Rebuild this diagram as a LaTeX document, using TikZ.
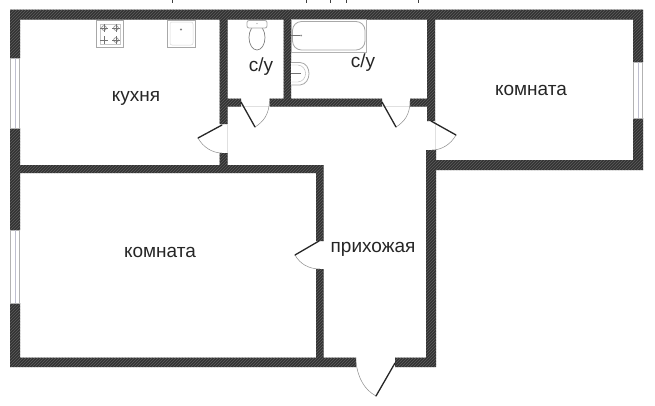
\documentclass[tikz,border=0pt]{standalone}
\usepackage{fontspec}
\setmainfont{Liberation Sans}
\usetikzlibrary{patterns}
\definecolor{wallc}{HTML}{333333}
\definecolor{hatchc}{HTML}{5E5E5E}
\definecolor{fix}{HTML}{A8A8A8}
\tikzset{
  wallfill/.style={fill=wallc},
  wallhatch/.style={pattern=north east lines,pattern color=hatchc},
  leaf/.style={draw=black!85,line width=1.3pt,line cap=round},
  swing/.style={draw=black!45,line width=0.5pt},
  sill/.style={draw=black!12,line width=0.5pt},
  winframe/.style={draw=black!30,fill=white,line width=0.5pt},
  winline/.style={draw=blue!25!black!25,line width=0.9pt},
  fixture/.style={draw=fix,line width=0.8pt,fill=white},
  fixthin/.style={draw=black!55,line width=0.5pt},
  room/.style={font=\fontsize{19}{21}\selectfont,text=black!85,inner sep=0pt},
  stub/.style={draw=black!75,line width=0.9pt}
}
\newcommand{\wallpath}{
  (10,9.5) rectangle (643,19.5)
  (10,9.5) rectangle (20,58)
  (10,128) rectangle (20,230)
  (10,303) rectangle (20,367)
  (10,357.5) rectangle (356,367)
  (395,357.5) rectangle (436,367)
  (426,150) rectangle (436,367)
  (427,19) rectangle (435,121)
  (426,160) rectangle (643,170)
  (633,9.5) rectangle (643,62)
  (633,118) rectangle (643,170)
  (20,165) rectangle (323.5,173)
  (316,165) rectangle (323.5,241)
  (316,269) rectangle (323.5,358)
  (219.5,19) rectangle (227.5,124)
  (219.5,153) rectangle (227.5,166)
  (283.5,19) rectangle (291,99)
  (227,98.5) rectangle (241,106.5)
  (269.5,98.5) rectangle (382,106.5)
  (410,98.5) rectangle (428,106.5)
}
\begin{document}
\begin{tikzpicture}[x=1pt,y=-1pt]
\useasboundingbox (0,0) rectangle (655,405);
\fill[white] (0,0) rectangle (655,405);
% clipped caption remnants
\foreach \x in {172,306,330,346,418}{\draw[stub] (\x,0) -- (\x,3);}
% walls
\fill[wallfill] \wallpath;
\fill[wallhatch] \wallpath;
% windows
\foreach \a/\b in {58/128,230/303}{
  \draw[winframe] (10.5,\a) rectangle (19.5,\b);
  \draw[winline] (15,\a) -- (15,\b);
}
\draw[winframe] (633.5,62) rectangle (642.5,118);
\draw[winline] (638,62) -- (638,118);
% doors
\draw[sill] (227.5,124) -- (227.5,153);
\draw[swing] (198,138) .. controls (203,147) and (212,153) .. (222,153);
\draw[leaf] (222,125) -- (198,138);
\draw[sill] (241,106) -- (269.5,106);
\draw[swing] (255,127) .. controls (263,122) and (269,115) .. (269.5,101);
\draw[leaf] (241,102) -- (255,127);
\draw[sill] (382,106) -- (410,106);
\draw[swing] (396,127) .. controls (404,122) and (410,115) .. (410,101);
\draw[leaf] (382,102) -- (396,127);
\draw[sill] (435,121) -- (435,150);
\draw[swing] (456,135) .. controls (451,144) and (442,150) .. (432,150);
\draw[leaf] (431,121) -- (456,135);
\draw[swing] (295,255) .. controls (300,264) and (309,269) .. (320,269);
\draw[leaf] (319,241) -- (295,255);
\draw[swing] (356,362) .. controls (358,379) and (365,390) .. (376,396);
\draw[leaf] (395,363) -- (376,396);
% stove
\draw[fixture,line width=1pt] (96.5,20.5) rectangle (123.5,47.5);
\draw[draw=black!22,line width=0.6pt] (100,24) rectangle (120,44);
\foreach \x/\y in {104/28,116/28,116/40}{
  \draw[black!55,line width=0.5pt] (\x,\y) circle (2.4);
  \draw[black!55,line width=0.5pt] (\x-4,\y) -- (\x+4,\y) (\x,\y-4) -- (\x,\y+4);
}
\draw[black!55,line width=0.6pt] (100,40) -- (108,40) (104,36) -- (104,44);
% kitchen sink
\draw[fixture] (167.5,20.5) rectangle (195,47.5);
\draw[draw=black!15,line width=0.5pt,rounded corners=2pt] (170,22) rectangle (193,45);
\fill[black!50] (181,29.5) circle (1.1);
% toilet
\draw[draw=black!50,line width=0.7pt,fill=white] (257,37.5) ellipse (8 and 12.5);
\draw[fixture,rounded corners=2pt] (247,20.5) rectangle (267,28);
\fill[black!40] (257,23.5) circle (0.7);
% bath
\draw[draw=black!30,line width=0.6pt] (291,19.5) rectangle (366.7,52);
\draw[fixture,rounded corners=9pt] (292.5,21.5) rectangle (365,50);
\draw[fixthin] (291,35.5) -- (300,35.5);
\fill[black!45] (301,35.5) circle (1);
% washbasin
\draw[fixture] (291,62.5) -- (300,62.5) .. controls (312,63) and (312,84) .. (300,85) -- (291,85);
\draw[draw=black!30,line width=0.4pt] (291,65) -- (298,65) .. controls (308,66) and (308,81) .. (298,82) -- (291,82);
\draw[fixthin] (291,73.5) -- (301,73.5);
% labels
\node[room] (kitchen) at (136,98) {кухня};
\node[room] (wc1) at (261,67) {с/у};
\node[room] (wc2) at (363,62.5) {с/у};
\node[room] (room1) at (531,90) {комната};
\node[room] (room2) at (160,252) {комната};
\node[room] (hall) at (373,249) {прихожая};
\end{tikzpicture}
\end{document}
